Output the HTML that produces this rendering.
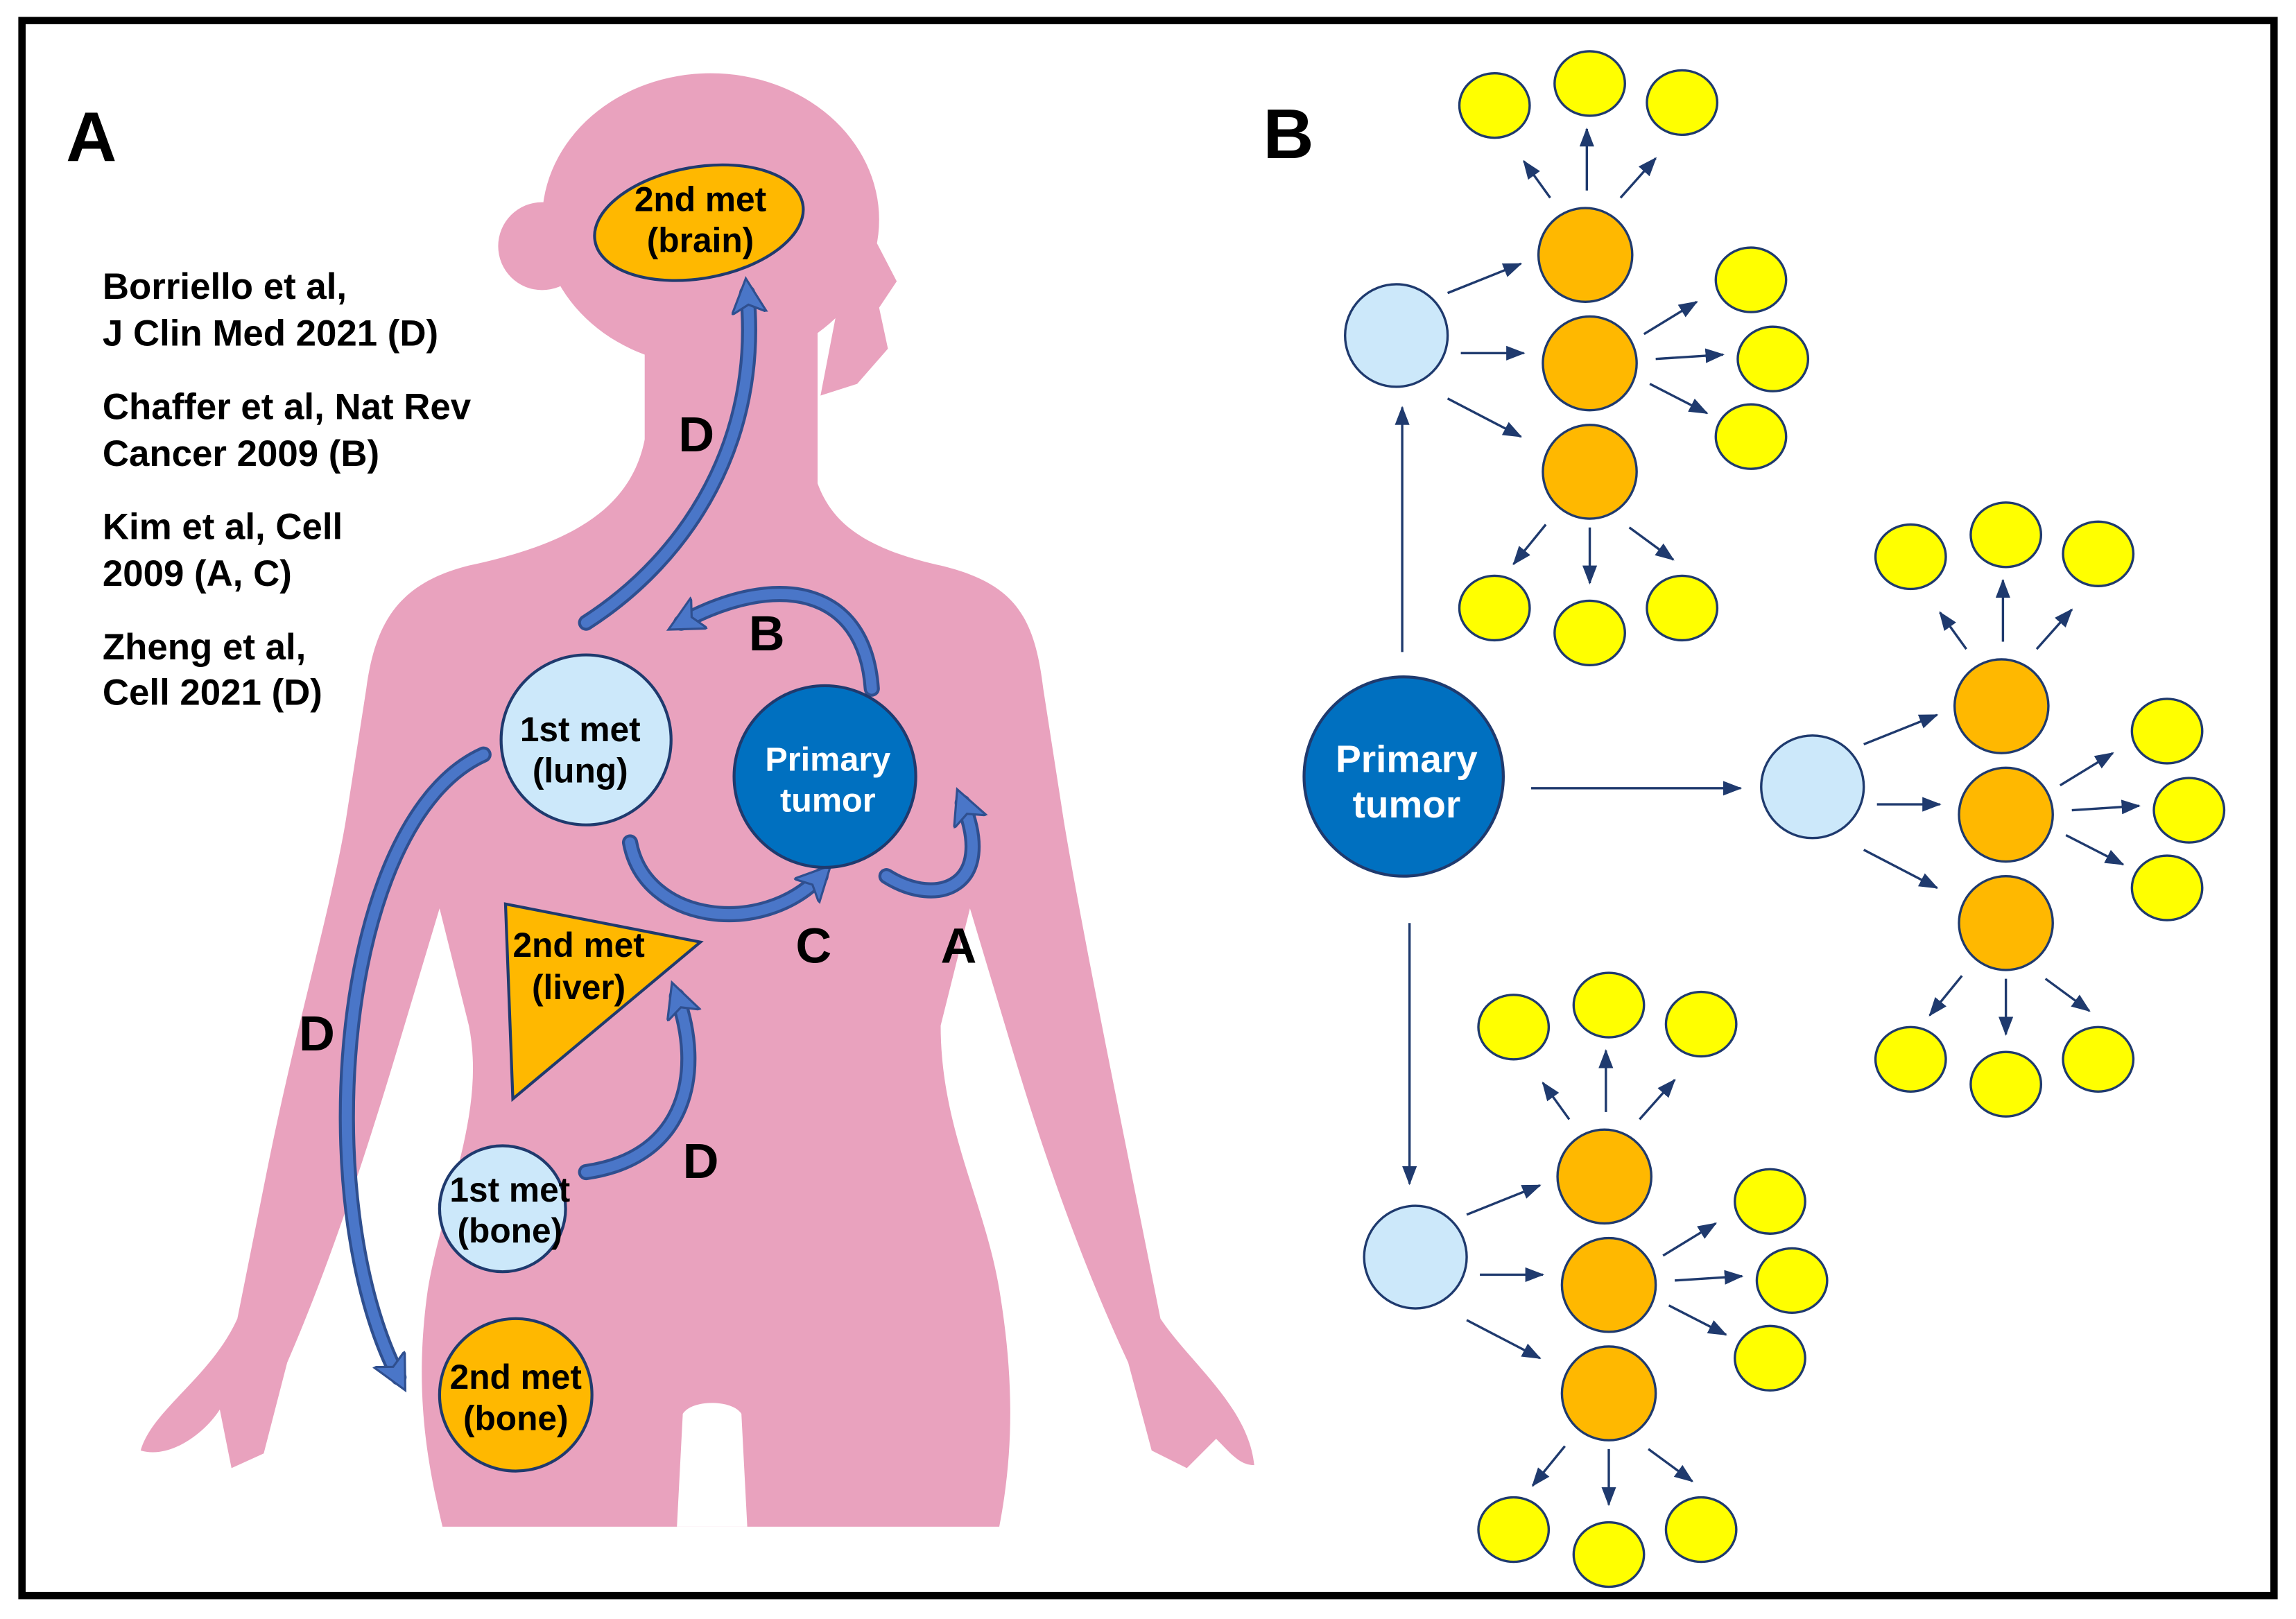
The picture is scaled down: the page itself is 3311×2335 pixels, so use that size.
<!DOCTYPE html>
<html><head><meta charset="utf-8"><style>
html,body{margin:0;padding:0;background:#fff;}
svg{display:block;}
text{font-family:"Liberation Sans",Arial,sans-serif;font-weight:bold;}
</style></head><body>
<svg width="3311" height="2335" viewBox="0 0 1567 1105" preserveAspectRatio="none" xmlns="http://www.w3.org/2000/svg">
<defs>
<marker id="bh" markerUnits="userSpaceOnUse" markerWidth="30" markerHeight="30" refX="14" refY="12" orient="auto">
<path d="M0,0 L24,12 L0,24 L6,12 Z" fill="#4A76C8" stroke="#2F4F8F" stroke-width="1.5"/>
</marker>
<marker id="nh" markerUnits="userSpaceOnUse" markerWidth="14" markerHeight="12" refX="12" refY="5" orient="auto">
<path d="M0,0 L13,5 L0,10 Z" fill="#1F3A6E"/>
</marker>
</defs>
<rect x="0" y="0" width="1567" height="1105" fill="#fff"/>
<rect x="15" y="14" width="1537" height="1075" fill="none" stroke="#000" stroke-width="5"/>

<g fill="#E9A2BE">
<ellipse cx="485" cy="150" rx="115" ry="100"/>
<circle cx="370" cy="168" r="30"/>
<path d="M585,140 L612,192 L600,210 L606,238 L585,262 L560,270 Z"/>
<rect x="440" y="220" width="118" height="130"/>
<path d="M440,300 C430,350 385,372 320,386 C272,398 256,425 250,470 L236,560 C226,620 202,700 182,800 L162,900 C144,940 104,962 96,990 C116,996 140,978 150,962 L158,1002 L180,992 L196,930 C222,870 246,800 270,720 L300,620 L320,700 C332,760 302,820 292,880 C282,950 292,1000 302,1042 L682,1042 C692,990 692,940 682,880 C672,820 642,770 642,700 L662,620 L692,720 C716,800 742,870 770,930 L786,990 L810,1002 L830,982 C840,992 846,1000 856,1000 C852,960 812,930 792,900 L772,800 C752,700 736,620 726,560 L712,470 C706,420 692,398 642,386 C580,372 556,350 552,300 Z"/>
</g>
<path d="M462,1042 L466,965 C472,955 500,955 506,965 L510,1042 Z" fill="#fff"/>

<text x="45" y="110" font-size="48">A</text>
<text x="862" y="108" font-size="48">B</text>

<g font-size="25" fill="#000">
<text x="70" y="204">Borriello et al,</text>
<text x="70" y="236">J Clin Med 2021 (D)</text>
<text x="70" y="286">Chaffer et al, Nat Rev</text>
<text x="70" y="318">Cancer 2009 (B)</text>
<text x="70" y="368">Kim et al, Cell</text>
<text x="70" y="400">2009 (A, C)</text>
<text x="70" y="450">Zheng et al,</text>
<text x="70" y="481">Cell 2021 (D)</text>
</g>

<g fill="none" stroke-linecap="round">
<g stroke="#2F4F8F" stroke-width="11">
<path d="M400,425 C470,380 520,300 510,200"/>
<path d="M595,470 C590,400 530,390 465,425"/>
<path d="M430,575 C440,630 520,640 560,598"/>
<path d="M605,598 C640,620 680,605 657,548"/>
<path d="M330,515 C230,560 210,820 272,940"/>
<path d="M400,800 C470,790 480,730 462,680"/>
</g>
<g stroke="#4A76C8" stroke-width="7">
<path d="M400,425 C470,380 520,300 510,200" marker-end="url(#bh)"/>
<path d="M595,470 C590,400 530,390 465,425" marker-end="url(#bh)"/>
<path d="M430,575 C440,630 520,640 560,598" marker-end="url(#bh)"/>
<path d="M605,598 C640,620 680,605 657,548" marker-end="url(#bh)"/>
<path d="M330,515 C230,560 210,820 272,940" marker-end="url(#bh)"/>
<path d="M400,800 C470,790 480,730 462,680" marker-end="url(#bh)"/>
</g>
</g>

<g font-size="34" fill="#000">
<text x="463" y="308">D</text>
<text x="511" y="444">B</text>
<text x="543" y="657">C</text>
<text x="642" y="657">A</text>
<text x="204" y="717">D</text>
<text x="466" y="804">D</text>
</g>

<g stroke="#1F3A6E" stroke-width="2">
<ellipse cx="477" cy="152" rx="72" ry="38" fill="#FFB800" transform="rotate(-10 477 152)"/>
<circle cx="400" cy="505" r="58" fill="#CCE8FA"/>
<circle cx="563" cy="530" r="62" fill="#0070C0"/>
<polygon points="345,617 478,643 350,750" fill="#FFB800"/>
<circle cx="343" cy="825" r="43" fill="#CCE8FA"/>
<circle cx="352" cy="952" r="52" fill="#FFB800"/>
</g>
<g font-size="23.5" text-anchor="middle" fill="#000">
<text x="478" y="144">2nd met</text><text x="478" y="172">(brain)</text>
<text x="396" y="506">1st met</text><text x="396" y="534">(lung)</text>
<text x="395" y="653">2nd met</text><text x="395" y="682">(liver)</text>
<text x="348" y="820">1st met</text><text x="348" y="848">(bone)</text>
<text x="352" y="948">2nd met</text><text x="352" y="976">(bone)</text>
</g>
<g font-size="23" text-anchor="middle" fill="#fff">
<text x="565" y="526">Primary</text><text x="565" y="554">tumor</text>
</g>

<circle cx="958" cy="530" r="68" fill="#0070C0" stroke="#1F3A6E" stroke-width="2"/>
<g font-size="26" text-anchor="middle" fill="#fff">
<text x="960" y="527">Primary</text><text x="960" y="558">tumor</text>
</g>
<g stroke="#1F3A6E" stroke-width="1.6" fill="none">
<path d="M957,445 L957,278" marker-end="url(#nh)"/>
<path d="M1045,538 L1188,538" marker-end="url(#nh)"/>
<path d="M962,630 L962,808" marker-end="url(#nh)"/>
</g>

<defs>
<g id="grp">
<g stroke="#1F3A6E" stroke-width="1.6" fill="none">
<path d="M988,200 L1038,180" marker-end="url(#nh)"/>
<path d="M997,241 L1040,241" marker-end="url(#nh)"/>
<path d="M988,272 L1038,298" marker-end="url(#nh)"/>
<path d="M1058,135 L1040,110" marker-end="url(#nh)"/>
<path d="M1083,130 L1083,88" marker-end="url(#nh)"/>
<path d="M1106,135 L1130,108" marker-end="url(#nh)"/>
<path d="M1122,228 L1158,206" marker-end="url(#nh)"/>
<path d="M1130,245 L1176,242" marker-end="url(#nh)"/>
<path d="M1126,262 L1165,282" marker-end="url(#nh)"/>
<path d="M1055,358 L1033,385" marker-end="url(#nh)"/>
<path d="M1085,360 L1085,398" marker-end="url(#nh)"/>
<path d="M1112,360 L1142,382" marker-end="url(#nh)"/>
</g>
<g stroke="#1F3A6E" stroke-width="1.6">
<circle cx="953" cy="229" r="35" fill="#CCE8FA"/>
<circle cx="1082" cy="174" r="32" fill="#FFB800"/>
<circle cx="1085" cy="248" r="32" fill="#FFB800"/>
<circle cx="1085" cy="322" r="32" fill="#FFB800"/>
<g fill="#FFFF00">
<ellipse cx="1020" cy="72" rx="24" ry="22"/>
<ellipse cx="1085" cy="57" rx="24" ry="22"/>
<ellipse cx="1148" cy="70" rx="24" ry="22"/>
<ellipse cx="1195" cy="191" rx="24" ry="22"/>
<ellipse cx="1210" cy="245" rx="24" ry="22"/>
<ellipse cx="1195" cy="298" rx="24" ry="22"/>
<ellipse cx="1020" cy="415" rx="24" ry="22"/>
<ellipse cx="1085" cy="432" rx="24" ry="22"/>
<ellipse cx="1148" cy="415" rx="24" ry="22"/>
</g>
</g>
</g>
</defs>
<use href="#grp"/>
<use href="#grp" transform="translate(284,308)"/>
<use href="#grp" transform="translate(13,629)"/>
</svg>
</body></html>
